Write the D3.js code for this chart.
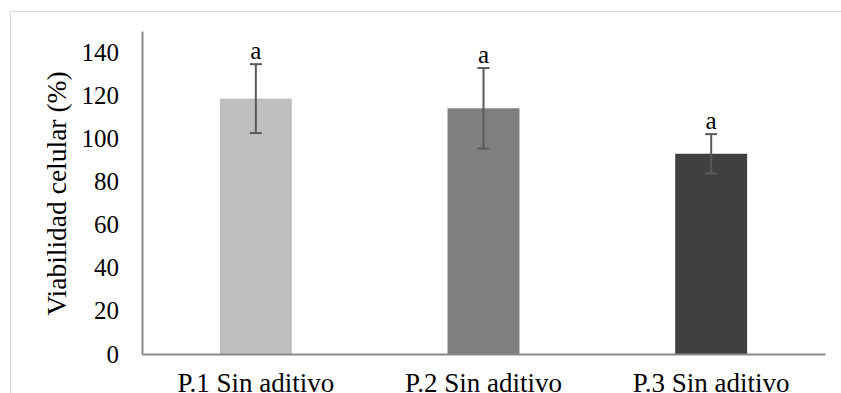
<!DOCTYPE html>
<html>
<head>
<meta charset="utf-8">
<script src="https://cdn.jsdelivr.net/npm/d3@7"></script>
<style>
  html, body { margin: 0; padding: 0; background: #fff; }
  svg { display: block; }
</style>
</head>
<body>
<div id="chart"></div>
<script>
// Data
const categories = ['P.1 Sin aditivo', 'P.2 Sin aditivo', 'P.3 Sin aditivo'];
const means = [118.6, 114.1, 93.0];
const errors = [16, 18.7, 9.1];
const letters = ['a', 'a', 'a'];
const barColors = ['#bfbfbf', '#7f7f7f', '#404040'];
const yTicks = [0, 20, 40, 60, 80, 100, 120, 140];

const width = 841, height = 393;
// plot area [top, right, bottom, left]
const margin = [31, 16, 39, 142];
const font = 'Liberation Serif';
const fontSize = 25;

const svg = d3.select('#chart').append('svg')
    .attr('width', width)
    .attr('height', height)
    .attr('font-family', font)
    .attr('font-size', fontSize);

// outer chart frame (only top and left visible in the crop)
svg.append('rect')
    .attr('x', 10.5).attr('y', 11.5)
    .attr('width', width + 20).attr('height', height + 20)
    .attr('fill', 'none')
    .attr('stroke', '#d9d9d9')
    .attr('stroke-width', 1);

const data = categories.map((c, i) => ({cat: c, mean: means[i], err: errors[i], letter: letters[i], color: barColors[i]}));

const scaleX = d3.scaleBand(categories, [margin[3], width - margin[1]])
    .paddingInner(0.684)
    .paddingOuter(0.342);
const scaleY = d3.scaleLinear([0, 150], [height - margin[2], margin[0]]);

// bars
svg.append('g').selectAll('rect.bar')
    .data(data)
    .join('rect')
    .classed('bar', true)
    .attr('x', d => scaleX(d.cat))
    .attr('y', d => scaleY(d.mean))
    .attr('width', scaleX.bandwidth())
    .attr('height', d => scaleY(0) - scaleY(d.mean))
    .attr('fill', d => d.color);

// error bars
const err = svg.append('g')
    .attr('stroke', '#5a5a5a')
    .attr('stroke-width', 2)
    .selectAll('g')
    .data(data)
    .join('g')
    .attr('transform', d => `translate(${scaleX(d.cat) + scaleX.bandwidth() / 2},0)`);
err.append('line')
    .attr('y1', d => scaleY(d.mean + d.err))
    .attr('y2', d => scaleY(d.mean - d.err));
err.append('line')
    .attr('x1', -6).attr('x2', 6)
    .attr('y1', d => scaleY(d.mean + d.err))
    .attr('y2', d => scaleY(d.mean + d.err));
err.append('line')
    .attr('x1', -6).attr('x2', 6)
    .attr('y1', d => scaleY(d.mean - d.err))
    .attr('y2', d => scaleY(d.mean - d.err));

// significance letters
svg.append('g').selectAll('text')
    .data(data)
    .join('text')
    .attr('x', d => scaleX(d.cat) + scaleX.bandwidth() / 2)
    .attr('y', d => scaleY(d.mean + d.err) - 5)
    .attr('text-anchor', 'middle')
    .text(d => d.letter);

// y axis
const axisY = svg.append('g')
    .attr('transform', `translate(${margin[3]},0)`)
    .call(d3.axisLeft(scaleY).tickValues(yTicks).tickSize(0).tickPadding(23))
    .attr('font-family', font)
    .attr('font-size', fontSize);
axisY.select('.domain').attr('stroke', '#898989').attr('stroke-width', 2);
axisY.selectAll('text').attr('fill', '#000');

// x axis
const axisX = svg.append('g')
    .attr('transform', `translate(0,${scaleY(0)})`)
    .call(d3.axisBottom(scaleX).tickSize(0).tickPadding(19))
    .attr('font-family', font)
    .attr('font-size', 27);
axisX.select('.domain').attr('stroke', '#898989').attr('stroke-width', 2);
axisX.selectAll('text').attr('fill', '#000');

// y label
svg.append('text')
    .attr('transform', `translate(66,${(scaleY(0) + scaleY(150)) / 2 + 1})rotate(-90)`)
    .attr('text-anchor', 'middle')
    .attr('font-size', 27.5)
    .text('Viabilidad celular (%)');
</script>
</body>
</html>
